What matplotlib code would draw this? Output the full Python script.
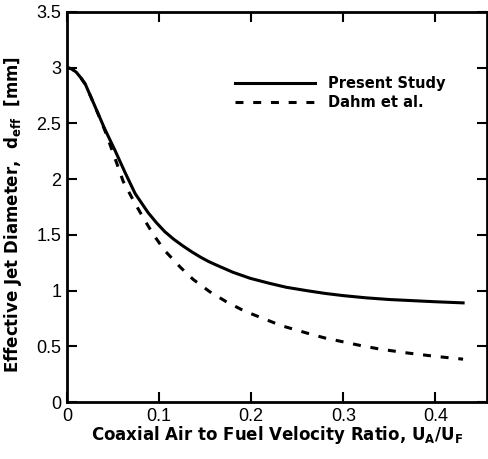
import numpy as np
import matplotlib
matplotlib.use("Agg")
import matplotlib.pyplot as plt

# values
x_present = [0.0, 0.005, 0.01, 0.015, 0.02, 0.03, 0.041, 0.052, 0.063, 0.074, 0.088,
             0.097, 0.106, 0.116, 0.126, 0.136, 0.145, 0.154, 0.162, 0.18, 0.199,
             0.22, 0.238, 0.26, 0.28, 0.3, 0.325, 0.35, 0.375, 0.4, 0.43]
y_present = [3.0, 2.99, 2.96, 2.91, 2.85, 2.66, 2.45, 2.26, 2.06, 1.87, 1.70,
             1.61, 1.53, 1.46, 1.40, 1.345, 1.30, 1.26, 1.23, 1.165, 1.11,
             1.065, 1.03, 1.00, 0.975, 0.955, 0.935, 0.92, 0.91, 0.90, 0.89]

x_dahm = [0.0, 0.005, 0.01, 0.015, 0.02, 0.03, 0.041, 0.052, 0.061, 0.072, 0.083,
          0.094, 0.106, 0.123, 0.137, 0.155, 0.173, 0.193, 0.213, 0.233, 0.26,
          0.28, 0.3, 0.32, 0.34, 0.37, 0.4, 0.43]
y_dahm = [3.0, 2.99, 2.96, 2.91, 2.85, 2.66, 2.44, 2.19, 1.98, 1.81, 1.65,
          1.50, 1.36, 1.21, 1.10, 0.99, 0.90, 0.815, 0.75, 0.685, 0.62,
          0.575, 0.54, 0.505, 0.475, 0.44, 0.41, 0.385]

xticks = [0, 0.1, 0.2, 0.3, 0.4]
yticks = [0, 0.5, 1, 1.5, 2, 2.5, 3, 3.5]

plt.rcParams["font.family"] = ["Liberation Sans", "DejaVu Sans"]
plt.rcParams["mathtext.fontset"] = "custom"
plt.rcParams["mathtext.rm"] = "DejaVu Sans:bold"
plt.rcParams["mathtext.it"] = "DejaVu Sans:bold"

fig = plt.figure(figsize=(4.89, 4.59), dpi=100)
ax = fig.add_axes([0.137, 0.124, 0.859, 0.850])

ax.plot(x_present, y_present, color="black", lw=2.2, label="Present Study")
ax.plot(x_dahm, y_dahm, color="black", lw=2.2, linestyle=(0, (2.6, 3.2)), label="Dahm et al.")

ax.set_xlim(0, 0.456)
ax.set_ylim(0, 3.5)
ax.set_xticks(xticks)
ax.set_xticklabels(["0", "0.1", "0.2", "0.3", "0.4"])
ax.set_yticks(yticks)
ax.set_yticklabels(["0", "0.5", "1", "1.5", "2", "2.5", "3", "3.5"])
ax.tick_params(direction="in", length=7, width=1.5, top=True, right=True,
               labelsize=13)
ax.tick_params(axis="x", pad=4)
ax.tick_params(axis="y", pad=4)
for s in ax.spines.values():
    s.set_linewidth(2)

ax.set_xlabel("Coaxial Air to Fuel Velocity Ratio, U$_A$/U$_F$",
              fontsize=12, fontweight="bold", family="DejaVu Sans")
ax.set_ylabel("Effective Jet Diameter,  d$_{eff}$  [mm]",
              fontsize=12, fontweight="bold", family="DejaVu Sans")
ax.xaxis.set_label_coords(0.50, -0.056)
ax.yaxis.set_label_coords(-0.102, 0.48)

leg = ax.legend(loc="upper left", bbox_to_anchor=(0.40, 0.836), frameon=False,
                borderpad=0, borderaxespad=0, handlelength=5.5, handletextpad=0.9,
                labelspacing=0.3,
                prop={"family": "DejaVu Sans", "size": 10.5, "weight": "bold"})

fig.savefig("out.png", dpi=100)
